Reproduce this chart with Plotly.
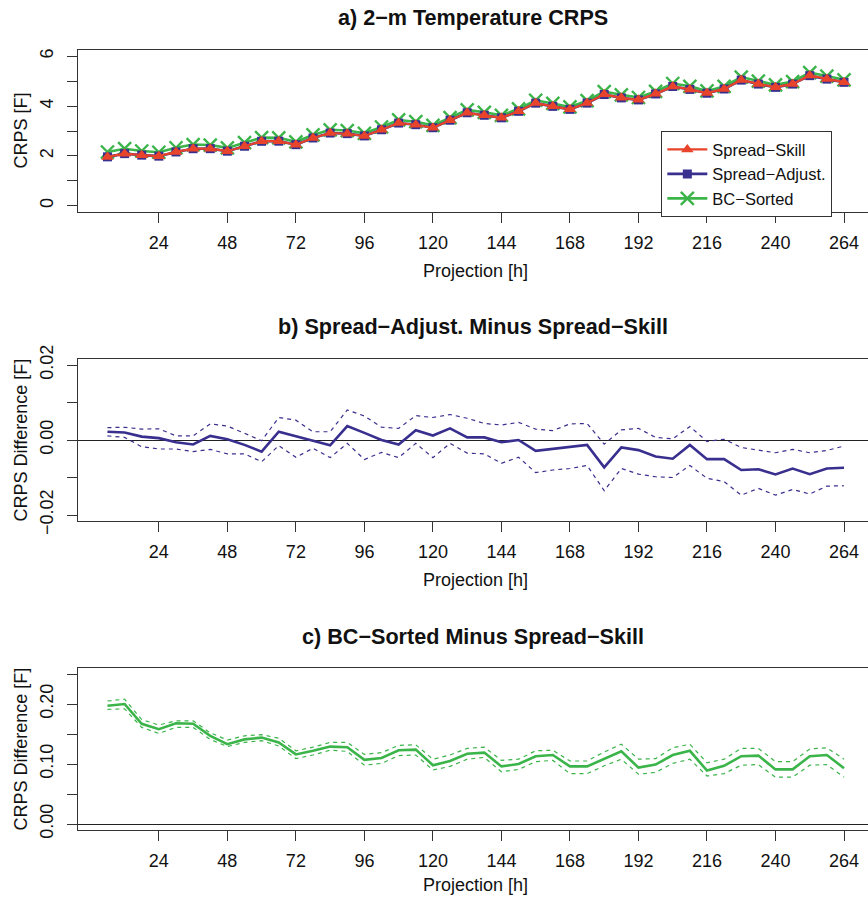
import plotly.graph_objects as go

# ---------------- data ----------------
hours = [6, 12, 18, 24, 30, 36, 42, 48, 54, 60, 66, 72, 78, 84, 90, 96, 102, 108, 114, 120, 126, 132,
         138, 144, 150, 156, 162, 168, 174, 180, 186, 192, 198, 204, 210, 216, 222, 228, 234, 240, 246,
         252, 258, 264]

spread_skill = [1.96, 2.09, 2.03, 1.99, 2.16, 2.29, 2.29, 2.19, 2.39, 2.59, 2.59, 2.45, 2.72, 2.92, 2.89,
                2.80, 3.05, 3.32, 3.25, 3.13, 3.43, 3.73, 3.63, 3.53, 3.79, 4.12, 3.99, 3.87, 4.12, 4.47,
                4.33, 4.25, 4.49, 4.79, 4.67, 4.52, 4.69, 5.05, 4.89, 4.76, 4.89, 5.23, 5.09, 4.96]

spread_adjust = [1.962, 2.092, 2.031, 1.991, 2.159, 2.289, 2.291, 2.190, 2.389, 2.587, 2.592, 2.451,
                 2.720, 2.919, 2.894, 2.802, 3.050, 3.319, 3.253, 3.131, 3.433, 3.731, 3.631, 3.529,
                 3.790, 4.117, 3.988, 3.868, 4.119, 4.463, 4.328, 4.247, 4.486, 4.785, 4.669, 4.515,
                 4.685, 5.042, 4.882, 4.751, 4.882, 5.221, 5.082, 4.953]

bc_sorted = [2.157, 2.290, 2.197, 2.148, 2.328, 2.457, 2.437, 2.323, 2.531, 2.734, 2.726, 2.566, 2.842,
             3.049, 3.018, 2.907, 3.160, 3.443, 3.374, 3.228, 3.535, 3.847, 3.749, 3.626, 3.890, 4.233,
             4.105, 3.966, 4.216, 4.578, 4.451, 4.344, 4.589, 4.905, 4.792, 4.609, 4.787, 5.163, 5.004,
             4.851, 4.981, 5.343, 5.205, 5.053]

diff_b = [0.0022, 0.0020, 0.0009, 0.0005, -0.0006, -0.0012, 0.0011, 0.0002, -0.0013, -0.0031, 0.0022,
          0.0011, -0.0002, -0.0014, 0.0037, 0.0019, 0.0000, -0.0012, 0.0026, 0.0012, 0.0031, 0.0007,
          0.0007, -0.0006, 0.0000, -0.0029, -0.0024, -0.0019, -0.0013, -0.0073, -0.0020, -0.0027,
          -0.0044, -0.0050, -0.0013, -0.0051, -0.0051, -0.0080, -0.0078, -0.0092, -0.0076, -0.0091,
          -0.0076, -0.0074]
diff_b_upper = [0.0033, 0.0034, 0.0029, 0.0030, 0.0011, 0.0011, 0.0043, 0.0037, 0.0018, -0.0002, 0.0060,
                0.0053, 0.0022, 0.0022, 0.0080, 0.0064, 0.0034, 0.0031, 0.0065, 0.0060, 0.0068, 0.0058,
                0.0044, 0.0040, 0.0047, 0.0029, 0.0025, 0.0043, 0.0044, -0.0011, 0.0027, 0.0031, 0.0007,
                0.0003, 0.0036, -0.0004, 0.0002, -0.0020, -0.0027, -0.0034, -0.0025, -0.0034, -0.0028,
                -0.0016]
diff_b_lower = [0.0011, 0.0007, -0.0018, -0.0024, -0.0024, -0.0031, -0.0025, -0.0037, -0.0037, -0.0058,
                -0.0015, -0.0046, -0.0022, -0.0047, -0.0009, -0.0052, -0.0033, -0.0047, -0.0009, -0.0047,
                -0.0009, -0.0035, -0.0037, -0.0062, -0.0046, -0.0087, -0.0080, -0.0076, -0.0068, -0.0135,
                -0.0076, -0.0091, -0.0098, -0.0100, -0.0068, -0.0102, -0.0111, -0.0147, -0.0129, -0.0147,
                -0.0132, -0.0144, -0.0123, -0.0122]

diff_c = [0.197, 0.200, 0.167, 0.158, 0.168, 0.167, 0.147, 0.133, 0.141, 0.144, 0.136, 0.116, 0.122,
          0.129, 0.128, 0.107, 0.110, 0.123, 0.124, 0.098, 0.105, 0.117, 0.119, 0.096, 0.100, 0.113,
          0.115, 0.096, 0.096, 0.108, 0.121, 0.094, 0.099, 0.115, 0.122, 0.089, 0.097, 0.113, 0.114,
          0.091, 0.091, 0.113, 0.115, 0.093]
diff_c_upper = [0.205, 0.208, 0.174, 0.165, 0.172, 0.172, 0.152, 0.140, 0.147, 0.149, 0.143, 0.122,
                0.128, 0.136, 0.136, 0.116, 0.119, 0.131, 0.132, 0.108, 0.115, 0.126, 0.128, 0.106,
                0.108, 0.122, 0.123, 0.105, 0.105, 0.120, 0.133, 0.108, 0.109, 0.127, 0.133, 0.102,
                0.108, 0.126, 0.126, 0.104, 0.104, 0.125, 0.127, 0.108]
diff_c_lower = [0.191, 0.192, 0.161, 0.151, 0.161, 0.161, 0.141, 0.129, 0.136, 0.139, 0.130, 0.109,
                0.115, 0.123, 0.121, 0.098, 0.101, 0.114, 0.115, 0.090, 0.096, 0.108, 0.111, 0.087,
                0.091, 0.104, 0.106, 0.084, 0.084, 0.097, 0.108, 0.083, 0.086, 0.101, 0.108, 0.080,
                0.084, 0.098, 0.099, 0.078, 0.078, 0.098, 0.099, 0.078]

x_ticks = [24, 48, 72, 96, 120, 144, 168, 192, 216, 240, 264]
ya_ticks = [0, 1, 2, 3, 4, 5, 6]
ya_text = ["0", "", "2", "", "4", "", "6"]
yb_ticks = [-0.02, -0.01, 0.0, 0.01, 0.02]
yb_text = ["\u22120.02", "", "0.00", "", "0.02"]
yc_ticks = [0.0, 0.05, 0.10, 0.15, 0.20, 0.25]
yc_text = ["0.00", "", "0.10", "", "0.20", ""]

# ---------------- style ----------------
RED = "#E8432B"
BLUE = "#382F8E"
GREEN = "#3BB44A"
AX = "#333333"
FONT = "Liberation Sans, Arial, Helvetica, sans-serif"
FS = 18

W, H = 868, 897
ML, MR, MT, MB = 77.5, 0, 50, 67
PW = W - ML - MR
PH = H - MT - MB


def px(x):
    return (x - ML) / PW


def py(y):
    return (H - MB - y) / PH


fig = go.Figure()

# panel a
fig.add_trace(go.Scatter(x=hours, y=bc_sorted, name="BC\u2212Sorted", mode="lines+markers",
                         line=dict(color=GREEN, width=2.6),
                         marker=dict(symbol="x-thin", size=13, line=dict(color=GREEN, width=2.4)),
                         legendrank=3, xaxis="x", yaxis="y"))
fig.add_trace(go.Scatter(x=hours, y=spread_adjust, name="Spread\u2212Adjust.", mode="lines+markers",
                         line=dict(color=BLUE, width=2.6),
                         marker=dict(symbol="square", size=9, color=BLUE),
                         legendrank=2, xaxis="x", yaxis="y"))
fig.add_trace(go.Scatter(x=hours, y=spread_skill, name="Spread\u2212Skill", mode="lines+markers",
                         line=dict(color=RED, width=2.2),
                         marker=dict(symbol="triangle-up", size=11, color=RED),
                         legendrank=1, xaxis="x", yaxis="y"))

# panel b
for arr, w, d in [(diff_b_upper, 1.2, "4px,4px"), (diff_b_lower, 1.2, "4px,4px"), (diff_b, 2.6, "solid")]:
    fig.add_trace(go.Scatter(x=hours, y=arr, mode="lines", showlegend=False,
                             line=dict(color=BLUE, width=w, dash=d), xaxis="x2", yaxis="y2"))

# panel c
for arr, w, d in [(diff_c_upper, 1.2, "4px,4px"), (diff_c_lower, 1.2, "4px,4px"), (diff_c, 2.6, "solid")]:
    fig.add_trace(go.Scatter(x=hours, y=arr, mode="lines", showlegend=False,
                             line=dict(color=GREEN, width=w, dash=d), xaxis="x3", yaxis="y3"))

xcommon = dict(range=[-4.32, 272.4], tickmode="array", tickvals=x_ticks, ticks="outside", ticklen=10,
               tickwidth=1.2, tickcolor=AX, showline=True, mirror=True, linecolor=AX, linewidth=1.4,
               showgrid=False, zeroline=False, tickfont=dict(size=FS, color="#111"), ticklabelstandoff=4)
ycommon = dict(tickmode="array", ticks="outside", ticklen=10, tickwidth=1.2, tickcolor=AX, tickangle=-90,
               showline=True, mirror=False, linecolor=AX, linewidth=1.4, showgrid=False,
               tickfont=dict(size=FS, color="#111"), ticklabelstandoff=7)

dom_a = [py(212), py(50)]
dom_b = [py(521), py(359)]
dom_c = [py(830), py(668)]

fig.update_layout(
    width=W, height=H, margin=dict(l=ML, r=MR, t=MT, b=MB),
    paper_bgcolor="white", plot_bgcolor="white",
    font=dict(family=FONT, size=FS, color="#111"),
    xaxis=dict(xcommon, domain=[0, 1], anchor="y"),
    yaxis=dict(ycommon, domain=dom_a, anchor="x", range=[-0.25, 6.25], tickvals=ya_ticks, ticktext=ya_text,
               zeroline=False),
    xaxis2=dict(xcommon, domain=[0, 1], anchor="y2"),
    yaxis2=dict(ycommon, domain=dom_b, anchor="x2", range=[-0.0216, 0.0216], tickvals=yb_ticks,
                ticktext=yb_text, zeroline=True, zerolinecolor="#222", zerolinewidth=1.3),
    xaxis3=dict(xcommon, domain=[0, 1], anchor="y3"),
    yaxis3=dict(ycommon, domain=dom_c, anchor="x3", range=[-0.01, 0.26], tickvals=yc_ticks,
                ticktext=yc_text, zeroline=True, zerolinecolor="#222", zerolinewidth=1.3),
    legend=dict(x=px(661), y=py(131), xanchor="left", yanchor="top", bgcolor="white",
                bordercolor=AX, borderwidth=1.2, font=dict(size=16.5, color="#111"),
                tracegroupgap=0, itemwidth=40),
    showlegend=True,
)

titles = [("<b>a) 2\u2212m Temperature CRPS</b>", 18),
          ("<b>b) Spread\u2212Adjust. Minus Spread\u2212Skill</b>", 327),
          ("<b>c) BC\u2212Sorted Minus Spread\u2212Skill</b>", 636)]
for t, y in titles:
    fig.add_annotation(text=t, xref="paper", yref="paper", x=px(473), y=py(y), showarrow=False,
                       xanchor="center", yanchor="middle", font=dict(size=21.6, color="#111"))

for y in [271, 580, 885]:
    fig.add_annotation(text="Projection [h]", xref="paper", yref="paper", x=px(475), y=py(y),
                       showarrow=False, xanchor="center", yanchor="middle", font=dict(size=FS, color="#111"))

for t, y in [("CRPS [F]", 131), ("CRPS Difference [F]", 440), ("CRPS Difference [F]", 749)]:
    fig.add_annotation(text=t, xref="paper", yref="paper", x=px(20), y=py(y), showarrow=False,
                       textangle=-90, xanchor="center", yanchor="middle", font=dict(size=FS, color="#111"))

fig.write_html("out.html")
